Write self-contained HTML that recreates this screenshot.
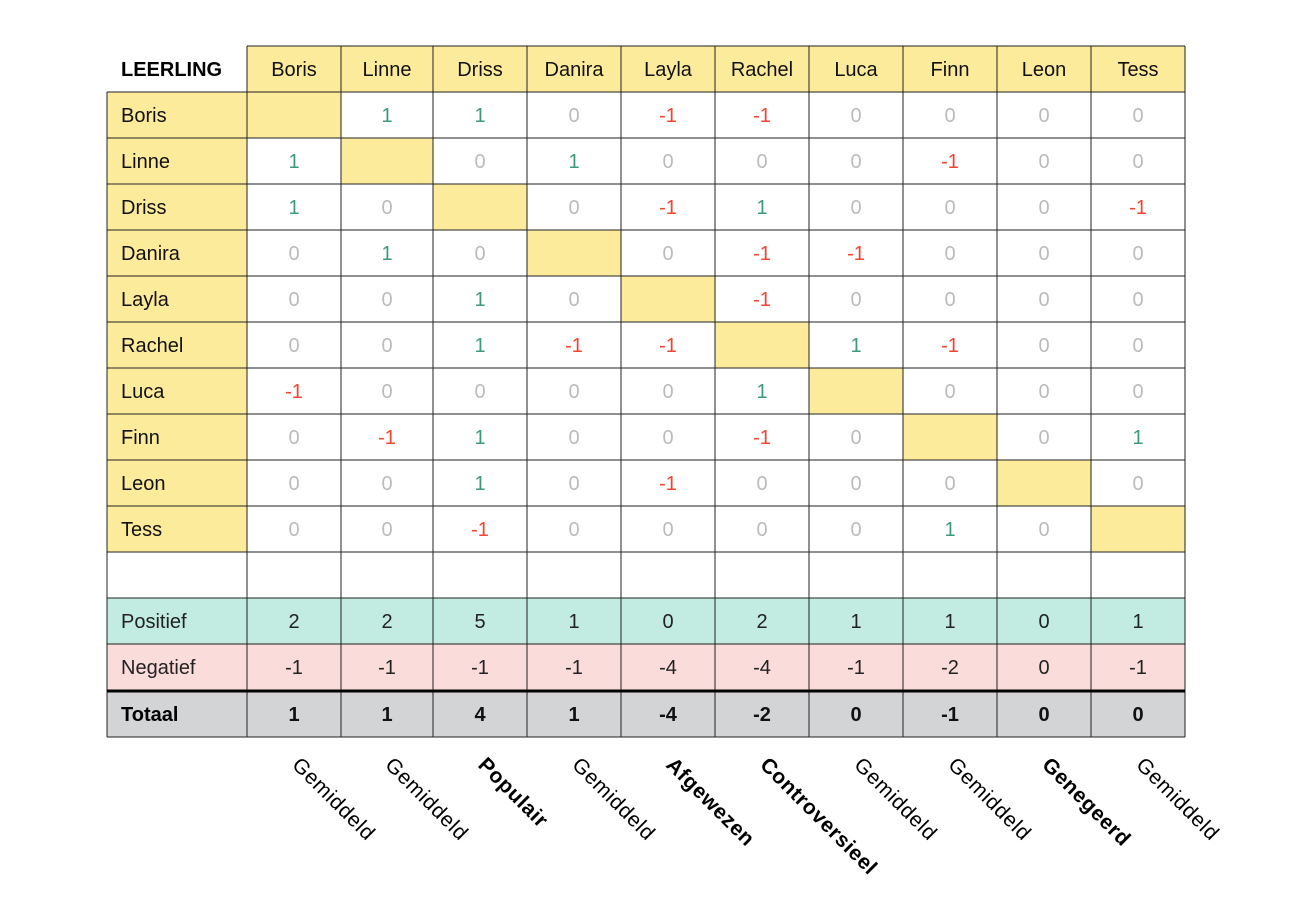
<!DOCTYPE html>
<html><head><meta charset="utf-8"><style>
html,body{margin:0;padding:0;background:#fff;}
svg{display:block;}
text{font-family:"Liberation Sans",sans-serif;}
</style></head><body>
<svg width="1296" height="901" xmlns="http://www.w3.org/2000/svg" id="s"></svg>
<script>
const s=document.getElementById('s');
const xs=[107,247,341,433,527,621,715,809,903,997,1091,1185];
const names=["Boris","Linne","Driss","Danira","Layla","Rachel","Luca","Finn","Leon","Tess"];
const M=[
[null,1,1,0,-1,-1,0,0,0,0],
[1,null,0,1,0,0,0,-1,0,0],
[1,0,null,0,-1,1,0,0,0,-1],
[0,1,0,null,0,-1,-1,0,0,0],
[0,0,1,0,null,-1,0,0,0,0],
[0,0,1,-1,-1,null,1,-1,0,0],
[-1,0,0,0,0,1,null,0,0,0],
[0,-1,1,0,0,-1,0,null,0,1],
[0,0,1,0,-1,0,0,0,null,0],
[0,0,-1,0,0,0,0,1,0,null]];
const pos=[2,2,5,1,0,2,1,1,0,1],neg=[-1,-1,-1,-1,-4,-4,-1,-2,0,-1],tot=[1,1,4,1,-4,-2,0,-1,0,0];
const lab=[["Gemiddeld",0],["Gemiddeld",0],["Populair",1],["Gemiddeld",0],["Afgewezen",1],["Controversieel",1],["Gemiddeld",0],["Gemiddeld",0],["Genegeerd",1],["Gemiddeld",0]];
let h='';
function rect(x,y,w,hh,f){h+=`<rect x="${x}" y="${y}" width="${w}" height="${hh}" fill="${f}"/>`;}
function txt(x,y,t,c,opt){h+=`<text x="${x}" y="${y}" fill="${c}" font-size="20" ${opt||''}>${t}</text>`;}
const Y=i=>46+46*i;
for(let j=0;j<10;j++){rect(xs[j+1],46,xs[j+2]-xs[j+1],46,'#fdeb9c');}
for(let i=0;i<10;i++){rect(107,Y(i+1),140,46,'#fdeb9c');rect(xs[i+1],Y(i+1),xs[i+2]-xs[i+1],46,'#fdeb9c');}
rect(107,598,1078,46,'#c2ebe1');rect(107,644,1078,47,'#fadcdb');rect(107,691,1078,46,'#d3d4d6');
for(let k=0;k<xs.length;k++){const y0=k==0?92:46;h+=`<line x1="${xs[k]}" y1="${y0}" x2="${xs[k]}" y2="737" stroke="#222" stroke-width="1"/>`;}
for(let i=0;i<=13;i++){const y=46+46*i;const x0=i==0?247:107;h+=`<line x1="${x0}" y1="${y}" x2="1185" y2="${y}" stroke="#222" stroke-width="1"/>`;}
h+=`<line x1="107" y1="691" x2="1185" y2="691" stroke="#000" stroke-width="3"/>`;
h+=`<line x1="107" y1="737" x2="1185" y2="737" stroke="#222" stroke-width="1"/>`;
txt(121,76,'LEERLING','#000','font-weight="bold" font-size="19"');
const cx=j=>(xs[j+1]+xs[j+2])/2;
for(let j=0;j<10;j++)txt(cx(j),76,names[j],'#111','text-anchor="middle"');
for(let i=0;i<10;i++){txt(121,Y(i+1)+30,names[i],'#111');
 for(let j=0;j<10;j++){const v=M[i][j];if(v===null)continue;
  const c=v>0?'#3a9a7a':v<0?'#f4442e':'#bbbbbb';txt(cx(j),Y(i+1)+30,v,c,'text-anchor="middle"');}}
txt(121,628,'Positief','#222');txt(121,674,'Negatief','#222');txt(121,721,'Totaal','#000','font-weight="bold"');
for(let j=0;j<10;j++){txt(cx(j),628,pos[j],'#222','text-anchor="middle"');txt(cx(j),674,neg[j],'#222','text-anchor="middle"');txt(cx(j),721,tot[j],'#111','text-anchor="middle" font-weight="bold"');}
for(let j=0;j<10;j++){const x=cx(j)-3,y=766;h+=`<text x="${x}" y="${y}" fill="#000" font-size="21" letter-spacing="0.6" ${lab[j][1]?'font-weight="bold"':''} transform="rotate(45 ${x} ${y})">${lab[j][0]}</text>`;}
s.innerHTML=h;
</script>
</body></html>
